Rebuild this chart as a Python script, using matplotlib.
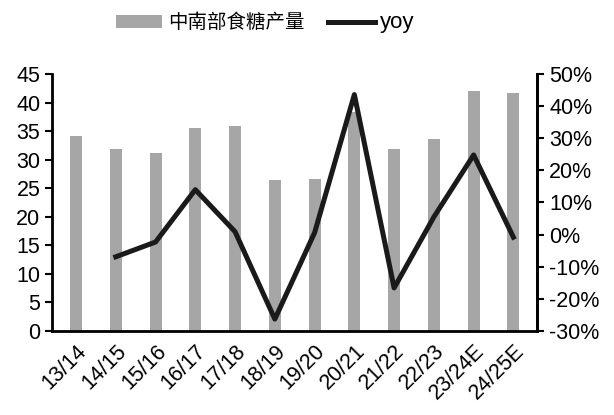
import matplotlib.pyplot as plt
from matplotlib.ticker import FuncFormatter

plt.rcParams['font.family'] = ['Liberation Sans', 'Noto Sans CJK SC']

seasons = ['13/14', '14/15', '15/16', '16/17', '17/18', '18/19', '19/20',
           '20/21', '21/22', '22/23', '23/24E', '24/25E']
output = [34.1, 31.9, 31.2, 35.5, 35.9, 26.4, 26.7, 38.4, 31.9, 33.6, 42.0, 41.7]
yoy = [None, -6.9, -2.3, 14.0, 0.9, -26.3, 0.6, 43.6, -16.6, 5.5, 24.8, -0.8]

fig = plt.figure(figsize=(6.14, 4.15), dpi=100)
ax = fig.add_axes([0.085, 0.2024, 0.79, 0.6193])
x = list(range(len(seasons)))
bars = ax.bar(x, output, width=0.3, color='#a6a6a6', label='中南部食糖产量')
ax.set_ylim(0, 45)
ax.set_yticks(range(0, 46, 5))
ax.set_xlim(-0.6, len(seasons) - 0.4)
ax.set_xticks(x)
ax.set_xticklabels(seasons, rotation=45, ha='right', rotation_mode='anchor')
ax.tick_params(axis='x', length=0, labelsize=15.5, pad=7)
ax.tick_params(axis='y', labelsize=15.5, width=1.5, length=5)
ax.spines['top'].set_visible(False)
for s in ['left', 'bottom', 'right']:
    ax.spines[s].set_linewidth(2)

ax2 = ax.twinx()
xs = [i for i, v in zip(x, yoy) if v is not None]
ys = [v for v in yoy if v is not None]
line, = ax2.plot(xs, ys, color='#1a1a1a', linewidth=3.6, label='yoy')
ax2.set_ylim(-30, 50)
ax2.set_yticks(range(-30, 51, 10))
ax2.yaxis.set_major_formatter(FuncFormatter(lambda v, p: f'{v:.0f}%'))
ax2.tick_params(axis='y', labelsize=15.5, width=1.5, length=5)
ax2.spines['top'].set_visible(False)
ax2.spines['right'].set_linewidth(2)

leg = fig.legend([bars, line], ['中南部食糖产量', 'yoy'], loc='center', bbox_to_anchor=(0.432, 0.945),
                 ncol=2, frameon=False, fontsize=14, handlelength=2.4, handletextpad=0.3,
                 columnspacing=1.2)
leg.get_texts()[1].set_fontsize(16)

fig.savefig('out.png', dpi=100)
